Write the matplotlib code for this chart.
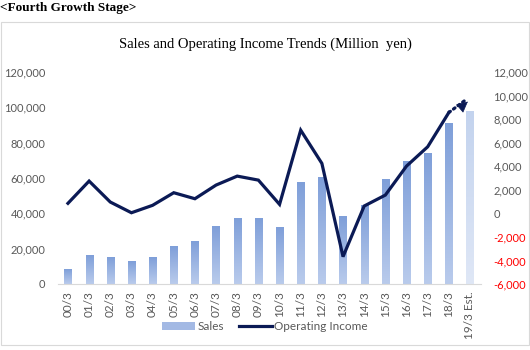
import matplotlib.pyplot as plt
import numpy as np
from matplotlib.lines import Line2D
from matplotlib.patches import Patch, Rectangle

periods = ["00/3", "01/3", "02/3", "03/3", "04/3", "05/3", "06/3", "07/3", "08/3", "09/3",
           "10/3", "11/3", "12/3", "13/3", "14/3", "15/3", "16/3", "17/3", "18/3", "19/3 Est."]
sales = [8000, 16200, 14900, 13000, 15000, 21500, 24100, 32400, 37100, 37000,
         31700, 57700, 60500, 38300, 44700, 59300, 69600, 74000, 91000, 97900]
# operating income, last entry is the estimate (drawn as dotted arrow)
op_income = [850, 2740, 960, 50, 680, 1750, 1240, 2400, 3160, 2820,
             760, 7060, 4240, -3680, 620, 1550, 4010, 5650, 8560, 9640]

left_ticks = [0, 20000, 40000, 60000, 80000, 100000, 120000]
right_ticks = [-6000, -4000, -2000, 0, 2000, 4000, 6000, 8000, 10000, 12000]

navy = "#0b1a55"
gray = "#595959"
tick_font = "Lato"

fig = plt.figure(figsize=(5.3, 3.5), dpi=100)
fig.patches.append(Rectangle((1 / 530, 5 / 350), 528 / 530, 323 / 350, transform=fig.transFigure,
                             fill=False, edgecolor="#d9d9d9", linewidth=0.8))
fig.text(0.0, 0.978, "<Fourth Growth Stage>", family="Liberation Serif", fontweight="bold",
         fontsize=9.5, va="center", ha="left")

ax = fig.add_axes([58 / 530, 66 / 350, 423 / 530, 212 / 350])
x = np.arange(len(periods))
bars = ax.bar(x, sales, width=0.34, color="none", edgecolor="none", zorder=1)

# vertical gradient inside each bar
for i, b in enumerate(bars):
    top = "#c3d3ee" if i == len(bars) - 1 else "#7f9fd9"
    bottom = "#dfe7f6" if i == len(bars) - 1 else "#b9cbec"
    c0 = np.array(plt.matplotlib.colors.to_rgb(top))
    c1 = np.array(plt.matplotlib.colors.to_rgb(bottom))
    t = np.linspace(0, 1, 64)[:, None]
    grad = (c0 * (1 - t) + c1 * t)[:, None, :]
    ax.imshow(grad, extent=(b.get_x(), b.get_x() + b.get_width(), 0, b.get_height()),
              aspect="auto", zorder=1, interpolation="bilinear")

ax.set_xlim(-0.47, len(periods) - 0.48)
ax.set_ylim(0, 120000)
ax.set_yticks(left_ticks)
ax.set_yticklabels([f"{v:,}" for v in left_ticks], family=tick_font, fontsize=8, color=gray)
ax.set_xticks(x)
ax.set_xticklabels(periods, rotation=90, family=tick_font, fontsize=8.5, color=gray)
for s in ["top", "left", "right"]:
    ax.spines[s].set_visible(False)
ax.spines["bottom"].set_color("#d9d9d9")
ax.tick_params(axis="y", length=0, pad=9)
ax.tick_params(axis="x", length=0, pad=5)

ax2 = ax.twinx()
ax2.set_ylim(-6000, 12000)
ax2.set_yticks(right_ticks)
ax2.set_yticklabels([f"{v:,}" for v in right_ticks], family=tick_font, fontsize=8)
for lbl, v in zip(ax2.get_yticklabels(), right_ticks):
    lbl.set_color("#ff0000" if v < 0 else gray)
for s in ["top", "left", "right", "bottom"]:
    ax2.spines[s].set_visible(False)
ax2.tick_params(axis="y", length=0, pad=9)

ax2.plot(x[:-1], op_income[:-1], color=navy, linewidth=2.3, solid_joinstyle="miter", zorder=3)
ax2.plot(x[-2:] + np.array([0, -0.2]), op_income[-2:], color=navy, linewidth=2.3,
         linestyle=(0, (0.6, 1.2)), dash_capstyle="round", zorder=3)
ax2.annotate("", xy=(x[-1], op_income[-1]), xytext=(x[-1] - 0.25, op_income[-1] - 380),
             arrowprops=dict(arrowstyle="-|>,head_length=0.7,head_width=0.35", color=navy, lw=0.5),
             zorder=4)

fig.text(0.5, 0.873, "Sales and Operating Income Trends (Million  yen)", family="Liberation Serif",
         fontsize=10.5, ha="center", va="center")

handles = [Patch(facecolor="#a3b9e4", edgecolor="none"),
           Line2D([0], [0], color=navy, linewidth=2.3)]
leg = fig.legend(handles, ["Sales", "Operating Income"], loc="center", bbox_to_anchor=(0.5, 0.066),
                 ncol=2, frameon=False, prop={"family": tick_font, "size": 8.5},
                 handlelength=2.8, handleheight=0.7, columnspacing=1.2, handletextpad=0.2)
for t in leg.get_texts():
    t.set_color(gray)

fig.savefig("out.png", dpi=100)
